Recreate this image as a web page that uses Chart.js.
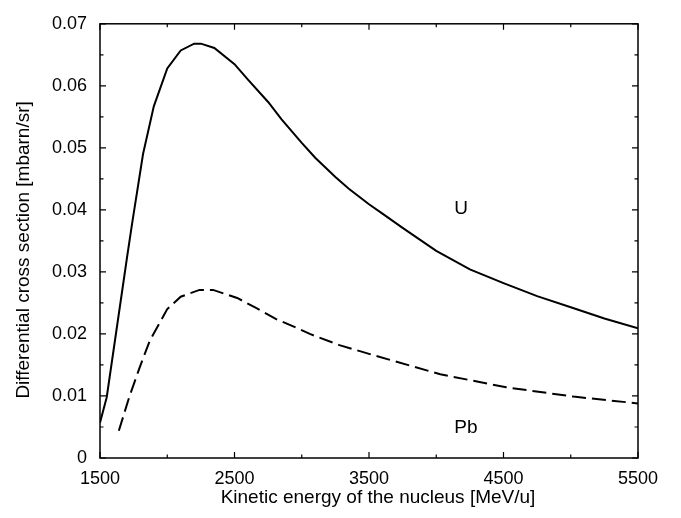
<!DOCTYPE html>
<html>
<head>
<meta charset="utf-8">
<script src="https://cdn.jsdelivr.net/npm/chart.js@4.4.1/dist/chart.umd.min.js"></script>
<style>
    body { margin: 0; background: #fff; }
    #wrap { width: 681px; height: 518px; }
</style>
</head>
<body>
<div id="wrap"><canvas id="myChart" width="681" height="518"></canvas></div>
<script>
// U curve (solid)
const uEnergy = [1500, 1550, 1700, 1740, 1820, 1900, 2000, 2100, 2200, 2250, 2350, 2500, 2600, 2750, 2850, 3000, 3100, 3250, 3350, 3500, 3600, 3750, 4000, 4250, 4500, 4750, 5000, 5250, 5500];
const uCross  = [0.0057, 0.0098, 0.0322, 0.0380, 0.0490, 0.0567, 0.0628, 0.0657, 0.0668, 0.0668, 0.0661, 0.0635, 0.0610, 0.0574, 0.0546, 0.0508, 0.0484, 0.0453, 0.0434, 0.0409, 0.0394, 0.0371, 0.0334, 0.0304, 0.0282, 0.0261, 0.0243, 0.0225, 0.0209];

// Pb curve (dashed)
const pbEnergy = [1640, 1720, 1800, 1870, 2000, 2100, 2240, 2340, 2520, 2660, 2810, 2960, 3060, 3280, 3530, 4030, 4520, 5020, 5500];
const pbCross  = [0.0044, 0.0100, 0.0149, 0.0189, 0.0240, 0.0260, 0.0271, 0.0271, 0.0258, 0.0242, 0.0224, 0.0210, 0.0200, 0.0182, 0.0166, 0.0135, 0.0114, 0.0099, 0.0088];

// axis ticks
const xTicks = [1500, 2500, 3500, 4500, 5500];
const xMinorTicks = [2000, 3000, 4000, 5000];
const yTicks = [0, 0.01, 0.02, 0.03, 0.04, 0.05, 0.06, 0.07];
const yMinorTicks = [0.005, 0.015, 0.025, 0.035, 0.045, 0.055, 0.065];

// curve labels
const curveLabels = [
    { text: 'U', x: 4185, y: 0.0401 },
    { text: 'Pb', x: 4220, y: 0.0049 }
];

const xTitle = 'Kinetic energy of the nucleus [MeV/u]';
const yTitle = 'Differential cross section [mbarn/sr]';

const FONT = '"Liberation Sans", Arial, Helvetica, sans-serif';

function toPoints(xs, ys) {
    return xs.map((x, i) => ({ x: x, y: ys[i] }));
}

// frame with inward ticks on all four sides, curve labels, axis titles
const framePlugin = {
    id: 'frame',
    afterDatasetsDraw(chart) {
        const ctx = chart.ctx;
        const area = chart.chartArea;
        const xs = chart.scales.x;
        const ys = chart.scales.y;
        ctx.save();
        ctx.strokeStyle = '#000';
        ctx.lineWidth = 1.5;
        ctx.strokeRect(area.left, area.top, area.right - area.left, area.bottom - area.top);

        ctx.lineWidth = 1.2;
        ctx.beginPath();
        const xMark = (v, len) => {
            const px = xs.getPixelForValue(v);
            ctx.moveTo(px, area.bottom); ctx.lineTo(px, area.bottom - len);
            ctx.moveTo(px, area.top); ctx.lineTo(px, area.top + len);
        };
        const yMark = (v, len) => {
            const py = ys.getPixelForValue(v);
            ctx.moveTo(area.left, py); ctx.lineTo(area.left + len, py);
            ctx.moveTo(area.right, py); ctx.lineTo(area.right - len, py);
        };
        xTicks.forEach(v => xMark(v, 6));
        xMinorTicks.forEach(v => xMark(v, 3.5));
        yTicks.forEach(v => yMark(v, 6));
        yMinorTicks.forEach(v => yMark(v, 3.5));
        ctx.stroke();

        ctx.fillStyle = '#000';
        ctx.font = '19px ' + FONT;
        ctx.textAlign = 'center';
        ctx.textBaseline = 'middle';
        curveLabels.forEach(l => {
            ctx.fillText(l.text, xs.getPixelForValue(l.x), ys.getPixelForValue(l.y));
        });

        // axis titles (gnuplot puts them a bit off the plot centre)
        const midX = (area.left + area.right) / 2;
        const midY = (area.top + area.bottom) / 2;
        ctx.fillText(xTitle, midX + 9, area.bottom + 40);
        ctx.translate(24, midY + 9);
        ctx.rotate(-Math.PI / 2);
        ctx.fillText(yTitle, 0, 0);
        ctx.restore();
    }
};

const ctx = document.getElementById('myChart').getContext('2d');
const myChart = new Chart(ctx, {
    type: 'line',
    data: {
        datasets: [{
            label: 'U',
            data: toPoints(uEnergy, uCross),
            borderColor: '#000',
            borderWidth: 2,
            pointRadius: 0,
            tension: 0,
            fill: false
        }, {
            label: 'Pb',
            data: toPoints(pbEnergy, pbCross),
            borderColor: '#000',
            borderWidth: 2,
            borderDash: [14, 6],
            pointRadius: 0,
            tension: 0,
            fill: false
        }]
    },
    options: {
        responsive: false,
        animation: false,
        layout: {
            padding: { top: 11, right: 43, bottom: 0, left: 0 }
        },
        plugins: {
            legend: { display: false },
            tooltip: { enabled: false }
        },
        scales: {
            x: {
                type: 'linear',
                min: 1500,
                max: 5500,
                grid: { display: false, drawTicks: false },
                border: { display: false },
                afterBuildTicks: scale => { scale.ticks = xTicks.map(v => ({ value: v })); },
                afterFit: scale => { scale.height = 60; },
                ticks: {
                    color: '#000',
                    padding: 10,
                    maxRotation: 0,
                    font: { family: FONT, size: 18 },
                    callback: v => String(v)
                }
            },
            y: {
                type: 'linear',
                min: 0,
                max: 0.07,
                grid: { display: false, drawTicks: false },
                border: { display: false },
                afterBuildTicks: scale => { scale.ticks = yTicks.map(v => ({ value: v })); },
                afterFit: scale => { scale.width = 100; },
                ticks: {
                    color: '#000',
                    padding: 13,
                    font: { family: FONT, size: 18 },
                    callback: v => v === 0 ? '0' : v.toFixed(2)
                }
            }
        }
    },
    plugins: [framePlugin]
});
</script>
</body>
</html>
